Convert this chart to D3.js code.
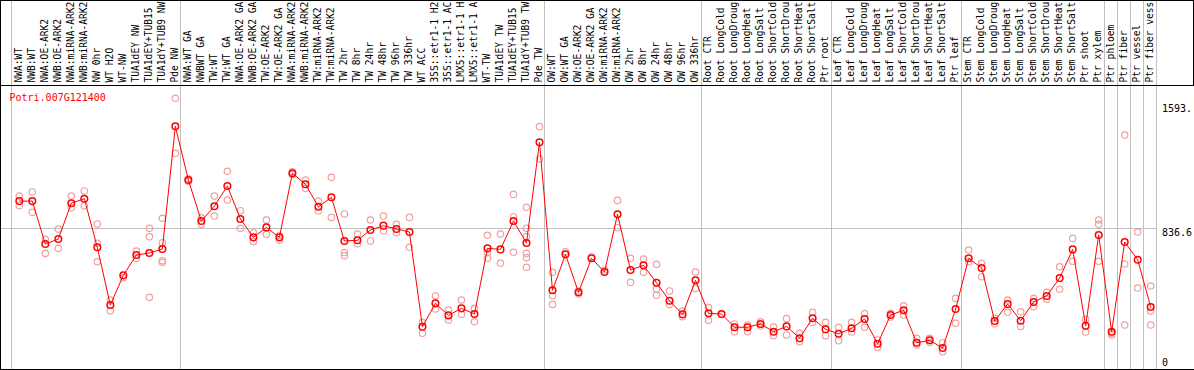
<!DOCTYPE html>
<html><head><meta charset="utf-8">
<script src="https://cdn.jsdelivr.net/npm/d3@7"></script>
<style>
body{margin:0;background:#fff}
svg{display:block}
text{font-family:"DejaVu Sans Mono",monospace;font-size:10px}
</style>
</head><body><svg id="c" width="1194" height="370"></svg>
<script>
const geneId = "Potri.007G121400";
const categories = [
 "NWA:WT","NWB:WT","NWA:OE-ARK2","NWB:OE-ARK2","NWA:miRNA-ARK2","NWB:miRNA-ARK2","NW 0hr","WT H2O","WT-NW","TUA1dEY NW","TUA1dEY+TUB15","TUA1dY+TUB9 NW","Pde NW",
 "NWA:WT GA","NWBWT GA","TW:WT","TW:WT GA","NWA:OE-ARK2 GA","NWB:OE-ARK2 GA","TW:OE-ARK2","TW:OE-ARK2 GA","NWA:miRNA-ARK2","NWB:miRNA-ARK2","TW:miRNA-ARK2","TW:miRNA-ARK2","TW 2hr","TW 8hr","TW 24hr","TW 48hr","TW 96hr","TW 336hr","WT ACC","35S::etr1-1 H2","35S::etr1-1 AC","LMX5::etr1-1 H","LMX5::etr1-1 A","WT-TW","TUA1dEY TW","TUA1dEY+TUB15","TUA1dY+TUB9 TW","Pde TW",
 "OW:WT","OW:WT GA","OW:OE-ARK2","OW:OE-ARK2 GA","OW:miRNA-ARK2","OW:miRNA-ARK2","OW 2hr","OW 8hr","OW 24hr","OW 48hr","OW 96hr","OW 336hr",
 "Root CTR","Root LongCold","Root LongDroug","Root LongHeat","Root LongSalt","Root ShortCold","Root ShortDrou","Root ShortHeat","Root ShortSalt","Ptr root",
 "Leaf CTR","Leaf LongCold","Leaf LongDroug","Leaf LongHeat","Leaf LongSalt","Leaf ShortCold","Leaf ShortDrou","Leaf ShortHeat","Leaf ShortSalt","Ptr leaf",
 "Stem CTR","Stem LongCold","Stem LongDroug","Stem LongHeat","Stem LongSalt","Stem ShortCold","Stem ShortDrou","Stem ShortHeat","Stem ShortSalt","Ptr shoot","Ptr xylem",
 "Ptr phloem","Ptr fiber","Ptr vessel","Ptr fiber vess"
];
const groupEnds = [12, 40, 52, 62, 72, 83, 84, 85, 86, 87];
const means = [
 995,995,745,774,982,1009,726,390,563,681,693,716,1430,
 1118,879,965,1083,891,784,842,784,1157,1093,962,1017,763,767,827,852,833,815,264,400,330,371,338,720,714,879,751,1337,
 476,685,464,662,582,918,594,621,520,415,336,534,
 342,338,261,261,280,235,266,197,313,249,
 223,255,309,165,332,360,171,185,140,367,
 662,606,297,396,299,408,443,547,714,270,798,
 235,757,654,379
];
const replicates = [
 [1024,968],[1048,930],[773,691],[832,720],[1024,956],[1054,968],[862,749,642],[419,357],[549],[704,662],[837,788,435],[895,753,648,639],[1593,1273],
 [1110,1125],[898,860],[1024,908],[1168,1001],[939,837],[811,759],[885,802],[793,768],[1150,1165],[1117,1069],[995,937],[1133,900],[920,695,677],[803,747],[885,763],[908,821],[860,811],[900,726],[290,226],[443,367],[361,303],[419,336],[371,293],[796,695,662],[803,633],[1034,904,697],[959,837,788,691,666,610],[1428,1240],
 [581,444,394],[700],[472,454],[671],[594],[999,840],[662,522],[658,581],[627,483,447],[472,394],[355,322],[582,487],
 [375,301],[335],[280,235],[274,235],[293,268],[262,212],[311,216],[226,177],[348,287],[290,212],
 [261,183],[290,233],[340,261],[187,144],[342,320],[386,332],[197,158],[197,173],[171,119],[429,284],
 [710,642],[633,555],[313,282],[419,348],[351,266],[429,380],[464,424],[613,482],[778,645],[307,233],[885,860,645],
 [226,216],[1379,629,274],[815,489],[501,355,274]
];
const yTicks = [1593, 836.6, 0];
const yTickLabels = ["1593.", "836.6", "0"];

const svg = d3.select("#c");
const x = d3.scalePoint().domain(d3.range(categories.length)).range([19.3, 1150.7]);
const y = d3.scaleLinear().domain([0, 1593]).range([372.1, 98.3]);
const grid = "#c0c0c0";

// vertical group gridlines
const gx = [x(0) - 8.5].concat(groupEnds.map(i => x(i) + 5));
svg.append("g").selectAll("line").data(gx).join("line")
  .attr("x1", d => Math.round(d) + 0.5).attr("x2", d => Math.round(d) + 0.5)
  .attr("y1", 0).attr("y2", 369)
  .attr("stroke", grid).attr("stroke-width", 1);

// horizontal gridline at middle tick
svg.append("line")
  .attr("x1", 0).attr("x2", Math.round(x(87) + 5) + 0.5)
  .attr("y1", Math.round(y(836.6)) + 0.5).attr("y2", Math.round(y(836.6)) + 0.5)
  .attr("stroke", grid);

// borders
const b = svg.append("g").attr("stroke","#000").attr("stroke-width",1).attr("shape-rendering","crispEdges");
b.append("line").attr("x1",0).attr("x2",1194).attr("y1",0.5).attr("y2",0.5);
b.append("line").attr("x1",0).attr("x2",1194).attr("y1",85.5).attr("y2",85.5);
b.append("line").attr("x1",0).attr("x2",1194).attr("y1",369.5).attr("y2",369.5);
b.append("line").attr("x1",0.5).attr("x2",0.5).attr("y1",0).attr("y2",370);
b.append("line").attr("x1",1193.5).attr("x2",1193.5).attr("y1",0).attr("y2",86);

// header labels
svg.append("g")
  .selectAll("text").data(categories).join("text")
  .attr("transform", (d,i) => `translate(${x(i) + 2.2},82.5) rotate(-90)`)
  .attr("fill","#000")
  .style("font-size","9.6px")
  .text(d => d);

// replicate points
const repData = [];
replicates.forEach((arr, i) => arr.forEach(v => repData.push({i, v})));
svg.append("g").selectAll("circle").data(repData).join("circle")
  .attr("cx", d => x(d.i)).attr("cy", d => y(d.v)).attr("r", 3.2)
  .attr("fill","none").attr("stroke","#f0a0a0").attr("stroke-width",1.2);

// mean line
svg.append("path").datum(means)
  .attr("d", d3.line().x((d,i) => x(i)).y(d => y(d)))
  .attr("fill","none").attr("stroke","#ff0000").attr("stroke-width",1);

// mean points
svg.append("g").selectAll("circle").data(means).join("circle")
  .attr("cx", (d,i) => x(i)).attr("cy", d => y(d)).attr("r", 3.3)
  .attr("fill","none").attr("stroke","#ff0000").attr("stroke-width",1.5);

// gene id
svg.append("text").attr("x", 9.5).attr("y", 101).attr("fill","#ff0000").text(geneId);

// y labels
svg.append("g")
  .selectAll("text").data(yTicks).join("text")
  .attr("x", 1162)
  .attr("y", d => Math.max(112, Math.min(365.5, y(d) + 7.6)))
  .attr("fill","#000")
  .text((d,i) => yTickLabels[i]);
</script>
</body></html>
